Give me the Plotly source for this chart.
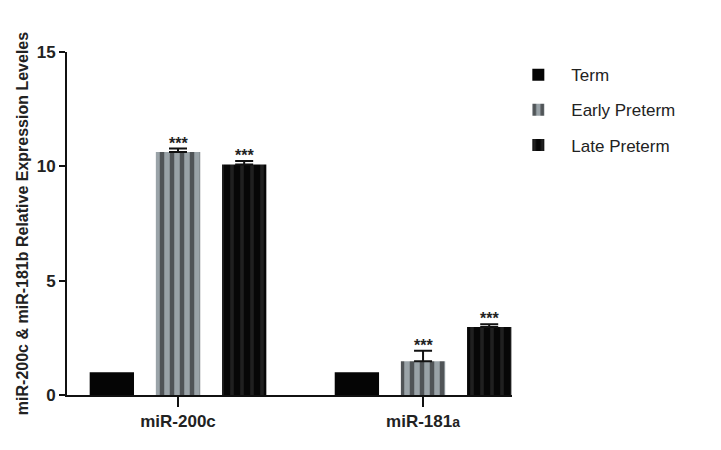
import plotly.graph_objects as go

genes = ["<b>miR-200c</b>", "<b>miR-181<span style='font-size:14px'>a</span></b>"]
groups = ["Term", "Early Preterm", "Late Preterm"]
means = {
    "Term": [1.0, 1.0],
    "Early Preterm": [10.63, 1.48],
    "Late Preterm": [10.08, 2.97],
}
errors = {
    "Term": [0, 0],
    "Early Preterm": [0.15, 0.45],
    "Late Preterm": [0.15, 0.12],
}
stars = {"Early Preterm": ["***", "***"], "Late Preterm": ["***", "***"]}
y_ticks = [0, 5, 10, 15]

styles = {
    "Term": dict(color="#050505", pattern=dict(shape="")),
    "Early Preterm": dict(color="#9aa3a8",
                          pattern=dict(shape="|", fgcolor="#050505", size=10, solidity=0.45, fillmode="overlay")),
    "Late Preterm": dict(color="#070707",
                         pattern=dict(shape="|", fgcolor="#3a3a3a", size=10, solidity=0.35, fillmode="overlay")),
}

fig = go.Figure()
for g in groups:
    fig.add_trace(go.Bar(
        name=g, x=genes, y=means[g], legendgroup=g,
        marker=dict(color=styles[g]["color"], pattern=styles[g]["pattern"], line=dict(width=0)),
        error_y=dict(type="data", array=errors[g], arrayminus=[0, 0], symmetric=False,
                     visible=g != "Term", color="#111", thickness=2, width=9),
    ))

# the page body adds 8px, so the figure is drawn a little smaller
shift = {"Early Preterm": 0, "Late Preterm": 66}
for g, labels in stars.items():
    for gene, m, e, s in zip(genes, means[g], errors[g], labels):
        fig.add_annotation(x=gene, y=m + e, text="<b>" + s + "</b>", showarrow=False, yanchor="bottom",
                           xshift=shift[g], yshift=-5, font=dict(size=16, color="#222"))

fig.update_layout(
    width=705, height=434,
    template="simple_white",
    paper_bgcolor="white", plot_bgcolor="white",
    font=dict(family="Arial, Liberation Sans, sans-serif", color="#111"),
    barmode="group", bargap=0.19, bargroupgap=0.33,
    margin=dict(l=59, r=201, t=44, b=47),
    legend=dict(x=0.985, y=0.985, xanchor="left", yanchor="top",
                font=dict(size=17, color="#222"), tracegroupgap=10, itemwidth=56),
    showlegend=True,
)
fig.update_xaxes(range=[-0.453, 1.363], showline=True, linecolor="#111", linewidth=2,
                 ticks="outside", ticklen=10, tickwidth=2, tickcolor="#111",
                 tickfont=dict(size=17, color="#222"))
fig.update_yaxes(range=[0, 15], tickvals=y_ticks, ticktext=["<b>%d</b>" % v for v in y_ticks],
                 showline=True, linecolor="#111", linewidth=2,
                 ticks="outside", ticklen=6, tickwidth=2, tickcolor="#111",
                 tickfont=dict(size=17, color="#222"),
                 title=dict(text="<b>miR-200c & miR-181b Relative Expression Leveles</b>",
                            font=dict(size=16, color="#222"), standoff=4),
                 showgrid=False, zeroline=False)

fig.write_html("out.html")
